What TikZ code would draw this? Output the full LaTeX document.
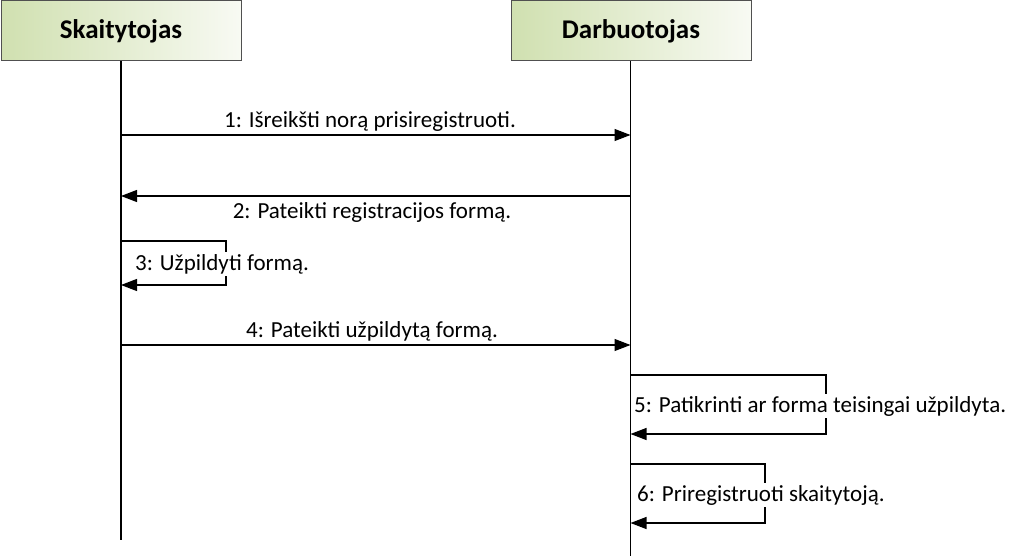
\documentclass[tikz,border=0pt]{standalone}
\usepackage{fontspec}
\setmainfont{Carlito}
\usetikzlibrary{arrows.meta}
\definecolor{hdrgreen}{HTML}{D0E0B0}
\definecolor{hdrwhite}{HTML}{F8FAF3}
\definecolor{hdrborder}{HTML}{505050}
\tikzset{
  header/.style={draw=hdrborder, line width=1pt, left color=hdrgreen, right color=hdrwhite,
    minimum width=240pt, minimum height=60pt, inner sep=0pt, font=\fontsize{27}{30}\selectfont\bfseries},
  lifeline/.style={line width=1.2pt, black},
  msg/.style={line width=1.2pt, -{Triangle[length=16pt,width=12pt]}},
  msglabel/.style={font=\fontsize{23}{26}\selectfont, inner sep=1pt},
  selflabel/.style={font=\fontsize{23}{26}\selectfont, inner sep=2pt, fill=white, anchor=west}
}
\begin{document}
\begin{tikzpicture}[x=1pt,y=-1pt]
\useasboundingbox (0,0) rectangle (1024,556);
% headers
\node[header] (sk) at (121,31) {Skaitytojas};
\node[header] (db) at (631,31) {Darbuotojas};
% lifeline ends
\coordinate (skend) at (121,540);
\coordinate (dbend) at (630.5,556);
\draw[lifeline] (sk.south -| skend) -- (skend);
\draw[lifeline] (db.south -| dbend) -- (dbend);
% message points
\coordinate (s1) at (121,135);  \coordinate (d1) at (630.5,135);
\coordinate (s2) at (121,196);  \coordinate (d2) at (630.5,196);
\coordinate (s3a) at (121,241); \coordinate (s3b) at (226,241);
\coordinate (s3c) at (226,285); \coordinate (s3d) at (121,285);
\coordinate (s4) at (121,345);  \coordinate (d4) at (630.5,345);
\coordinate (d5a) at (630.5,375); \coordinate (d5b) at (826,375);
\coordinate (d5c) at (826,434);   \coordinate (d5d) at (630.5,434);
\coordinate (d6a) at (630.5,464); \coordinate (d6b) at (765,464);
\coordinate (d6c) at (765,523);   \coordinate (d6d) at (630.5,523);
% 1
\draw[msg] (s1) -- (d1);
\node[msglabel] (l1) at (370,121) {1: Išreikšti norą prisiregistruoti.};
% 2
\draw[msg] (d2) -- (s2);
\node[msglabel] (l2) at (372,212) {2: Pateikti registracijos formą.};
% 3
\draw[msg] (s3a) -- (s3b) -- (s3c) -- (s3d);
\node[selflabel] (l3) at (133,264) {3: Užpildyti formą.};
% 4
\draw[msg] (s4) -- (d4);
\node[msglabel] (l4) at (372,331) {4: Pateikti užpildytą formą.};
% 5
\draw[msg] (d5a) -- (d5b) -- (d5c) -- (d5d);
\node[selflabel] (l5) at (632,406) {5: Patikrinti ar forma teisingai užpildyta.};
% 6
\draw[msg] (d6a) -- (d6b) -- (d6c) -- (d6d);
\node[selflabel] (l6) at (635,495) {6: Priregistruoti skaitytoją.};
\end{tikzpicture}
\end{document}
